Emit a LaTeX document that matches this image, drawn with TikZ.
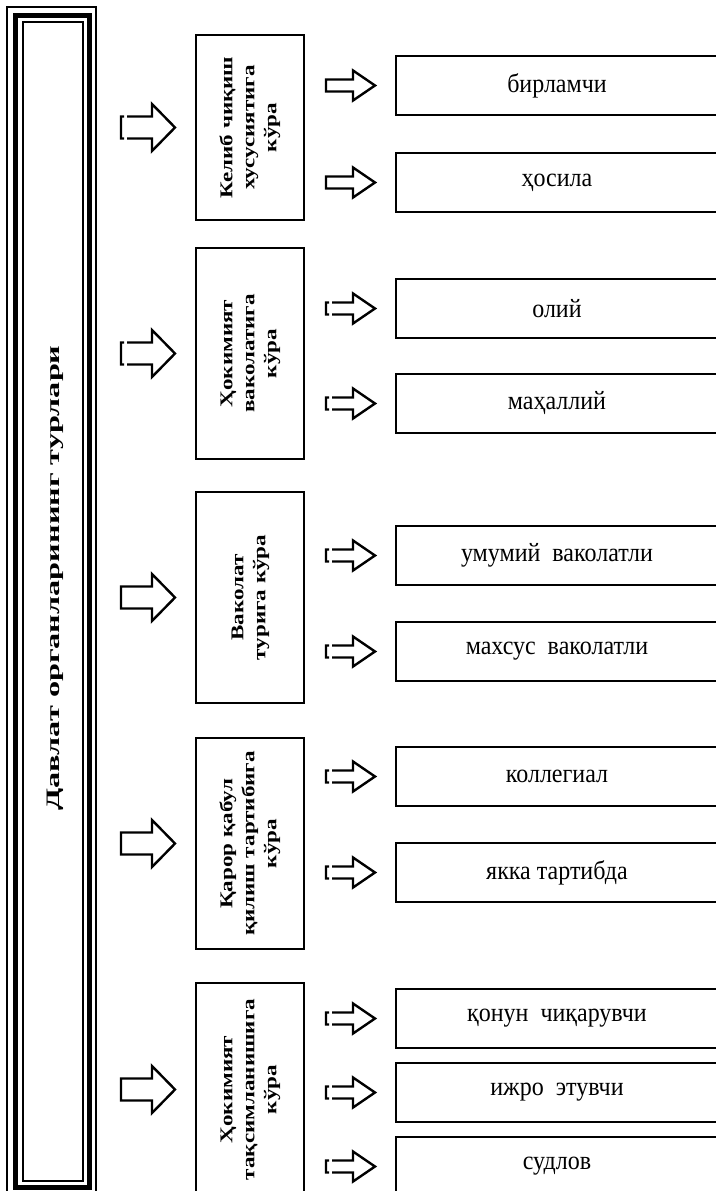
\documentclass[tikz,border=0pt]{standalone}
\usepackage{fontspec}
\setmainfont{Liberation Serif}
\usepackage{graphicx}
\usetikzlibrary{positioning,calc}

% text helpers: the scan is stretched in height
\newcommand{\vlabel}[2][1.28]{\rotatebox{90}{\scalebox{#1}[1]{\begin{tabular}{@{}c@{}}#2\end{tabular}}}}
\newcommand{\hlabel}[1]{\scalebox{1}[1.1]{#1}}

% hollow block arrows between two nodes
\newcommand{\blockarrow}[6][22]{%
  \draw[arrowline] let \p1=(#2.east), \p2=(#3.west) in
    (\x1+#1,\y2+#4) -- (\x2-21-#6,\y2+#4) -- (\x2-21-#6,\y2+#5) -- (\x2-21,\y2)
    -- (\x2-21-#6,\y2-#5) -- (\x2-21-#6,\y2-#4) -- (\x1+#1,\y2-#4) -- cycle;}
\newcommand{\brokenarrow}[6][22]{%
  \draw[arrowline] let \p1=(#2.east), \p2=(#3.west) in
    (\x1+#1+6,\y2+#4) -- (\x2-21-#6,\y2+#4) -- (\x2-21-#6,\y2+#5) -- (\x2-21,\y2)
    -- (\x2-21-#6,\y2-#5) -- (\x2-21-#6,\y2-#4) -- (\x1+#1+6,\y2-#4)
    (\x1+#1+3,\y2+#4) -- (\x1+#1,\y2+#4) -- (\x1+#1,\y2-#4) -- (\x1+#1+3,\y2-#4);}

\begin{document}
\begin{tikzpicture}
[
x=1pt, y=-1pt,
frame/.style={draw, line width=1.4pt, minimum width=89pt, minimum height=1189pt, inner sep=0pt, outer sep=0pt},
catbox/.style={draw, line width=1.8pt, minimum width=108pt, inner sep=0pt, outer sep=0pt,
  font=\fontsize{18}{22}\selectfont\bfseries},
itembox/.style={draw, line width=1.4pt, minimum width=322pt, minimum height=59pt, inner sep=0pt, outer sep=0pt,
  font=\fontsize{24}{28}\selectfont},
arrowline/.style={line width=2.4pt, line join=miter},
node distance=37pt
]
\useasboundingbox (0,0) rectangle (715,1191);

% left frame with the title
\node[frame] (title) at (51.5,601.5) {};
\draw[line width=5pt] ($(title.north west)+(8.5,8)$) rectangle ($(title.south east)+(-6.5,-9)$);
\draw[line width=1.4pt] ($(title.north west)+(16,15)$) rectangle ($(title.south east)+(-13,-15)$);
\node[font=\fontsize{19}{22}\selectfont\bfseries] (titlelbl) at (55,578)
  {\rotatebox{90}{\scalebox{1.7}[1]{Давлат органларининг турлари}}};

% criteria
\node[catbox, minimum height=185pt] (origin)     at (250,127.5) {\vlabel{Келиб чиқиш\\хусусиятига\\кўра}};
\node[catbox, minimum height=211pt] (power)      [below=28pt of origin] {\vlabel{Ҳокимият\\ваколатига\\кўра}};
\node[catbox, minimum height=211pt] (competence) [below=33pt of power] {\vlabel{Ваколат\\турига кўра}};
\node[catbox, minimum height=211pt] (decision)   [below=35pt of competence] {\vlabel{Қарор қабул\\қилиш тартибига\\кўра}};
\node[catbox, minimum height=213pt] (separation) [below=34pt of decision] {\vlabel{Ҳокимият\\тақсимланишига\\кўра}};

% kinds
\node[itembox] (primary)     at (557,85.5) {\hlabel{бирламчи}};
\node[itembox] (derived)     [below=38pt of primary] {\hlabel{ҳосила}};
\node[itembox] (supreme)     at (557,308.5) {\hlabel{олий}};
\node[itembox] (local)       [below=36pt of supreme] {\hlabel{маҳаллий}};
\node[itembox] (general)     at (557,555.5) {\hlabel{умумий\ \ ваколатли}};
\node[itembox] (special)     [below=of general] {\hlabel{махсус\ \ ваколатли}};
\node[itembox] (collegial)   at (557,776.5) {\hlabel{коллегиал}};
\node[itembox] (single)      [below=of collegial] {\hlabel{якка тартибда}};
\node[itembox] (legislative) at (557,1018.5) {\hlabel{қонун\ \ чиқарувчи}};
\node[itembox] (executive)   [below=15pt of legislative] {\hlabel{ижро\ \ этувчи}};
\node[itembox] (judicial)    [below=15pt of executive] {\hlabel{судлов}};

% arrows
\brokenarrow[25]{title}{origin}{11}{23.5}{23}
\brokenarrow[25]{title}{power}{11}{23.5}{23}
\blockarrow[25]{title}{competence}{11}{23.5}{23}
\blockarrow[25]{title}{decision}{11}{23.5}{23}
\blockarrow[25]{title}{separation}{11}{23.5}{23}

\blockarrow{origin}{primary}{6}{15}{22}
\blockarrow{origin}{derived}{6}{15}{22}
\brokenarrow{power}{supreme}{6}{15}{22}
\brokenarrow{power}{local}{6}{15}{22}
\brokenarrow{competence}{general}{6}{15}{22}
\brokenarrow{competence}{special}{6}{15}{22}
\brokenarrow{decision}{collegial}{6}{15}{22}
\brokenarrow{decision}{single}{6}{15}{22}
\brokenarrow{separation}{legislative}{6}{15}{22}
\brokenarrow{separation}{executive}{6}{15}{22}
\brokenarrow{separation}{judicial}{6}{15}{22}
\end{tikzpicture}
\end{document}
